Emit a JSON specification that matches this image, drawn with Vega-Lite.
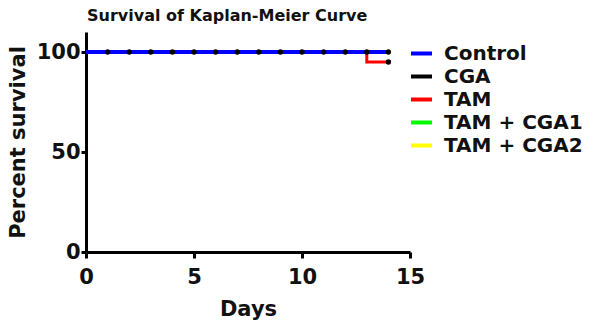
{
  "$schema": "https://vega.github.io/schema/vega-lite/v6.json",
  "width": 324,
  "height": 220,
  "autosize": "none",
  "padding": {"left": 86, "top": 32, "right": 197, "bottom": 69},
  "background": "white",
  "config": {
    "view": {"stroke": null},
    "font": "DejaVu Sans"
  },
  "title": {
    "text": "Survival of Kaplan-Meier Curve",
    "anchor": "start",
    "frame": "group",
    "fontSize": 16,
    "fontWeight": "bold",
    "font": "DejaVu Sans",
    "color": "#111",
    "offset": 8,
    "dx": 1
  },
  "datasets": {
    "curves": [
      {"group": "TAM", "day": 0, "pct": 100},
      {"group": "TAM", "day": 13, "pct": 95},
      {"group": "TAM", "day": 14, "pct": 95},
      {"group": "TAM + CGA2", "day": 0, "pct": 100},
      {"group": "TAM + CGA2", "day": 14, "pct": 100},
      {"group": "TAM + CGA1", "day": 0, "pct": 100},
      {"group": "TAM + CGA1", "day": 14, "pct": 100},
      {"group": "CGA", "day": 0, "pct": 100},
      {"group": "CGA", "day": 14, "pct": 100},
      {"group": "Control", "day": 0, "pct": 100},
      {"group": "Control", "day": 14, "pct": 100}
    ],
    "censor": [
      {"day": 1, "pct": 100}, {"day": 2, "pct": 100}, {"day": 3, "pct": 100},
      {"day": 4, "pct": 100}, {"day": 5, "pct": 100}, {"day": 6, "pct": 100},
      {"day": 7, "pct": 100}, {"day": 8, "pct": 100}, {"day": 9, "pct": 100},
      {"day": 10, "pct": 100}, {"day": 11, "pct": 100}, {"day": 12, "pct": 100},
      {"day": 13, "pct": 100}, {"day": 14, "pct": 100}, {"day": 14, "pct": 95}
    ]
  },
  "layer": [
    {
      "data": {"name": "curves"},
      "transform": [{"filter": "datum.group !== 'Control'"}],
      "mark": {"type": "line", "interpolate": "step-after", "strokeWidth": 3},
      "encoding": {
        "x": {
          "field": "day", "type": "quantitative",
          "scale": {"domain": [0, 15], "nice": false},
          "axis": {
            "values": [0, 5, 10, 15],
            "title": "Days",
            "titleFontSize": 21, "titleFontWeight": "bold", "titleColor": "#111",
            "titleFont": "DejaVu Sans",
            "titlePadding": 11,
            "labelFontSize": 21, "labelColor": "#111", "labelFontWeight": "bold",
            "labelFont": "DejaVu Sans",
            "labelPadding": 8,
            "domainColor": "#000", "domainWidth": 3,
            "tickColor": "#000", "tickWidth": 3, "tickSize": 6,
            "grid": false, "labelFlush": false
          }
        },
        "y": {
          "field": "pct", "type": "quantitative",
          "scale": {"domain": [0, 110], "nice": false},
          "axis": {
            "values": [0, 50, 100],
            "title": "Percent survival",
            "titleFontSize": 21, "titleFontWeight": "bold", "titleColor": "#111",
            "titleFont": "DejaVu Sans",
            "titlePadding": 8,
            "labelFontSize": 21, "labelColor": "#111", "labelFontWeight": "bold",
            "labelFont": "DejaVu Sans",
            "labelPadding": 1,
            "domainColor": "#000", "domainWidth": 3,
            "tickColor": "#000", "tickWidth": 3, "tickSize": 5,
            "grid": false
          }
        },
        "color": {
          "field": "group", "type": "nominal",
          "scale": {
            "domain": ["Control", "CGA", "TAM", "TAM + CGA1", "TAM + CGA2"],
            "range": ["#0000ff", "#000000", "#ff0000", "#00ff00", "#ffff00"]
          },
          "legend": {
            "orient": "none", "legendX": 323, "legendY": 9,
            "title": null,
            "symbolType": "stroke", "symbolStrokeWidth": 4, "symbolSize": 441,
            "labelFontSize": 20, "labelFontWeight": "bold", "labelColor": "#111",
            "labelFont": "DejaVu Sans",
            "labelLimit": 300,
            "labelOffset": 10,
            "rowPadding": 0,
            "symbolOffset": 0
          }
        },
        "order": {"field": "day", "type": "quantitative"}
      }
    },
    {
      "data": {"name": "curves"},
      "transform": [{"filter": "datum.group === 'Control'"}],
      "mark": {"type": "line", "interpolate": "step-after", "strokeWidth": 4},
      "encoding": {
        "x": {"field": "day", "type": "quantitative"},
        "y": {"field": "pct", "type": "quantitative"},
        "color": {"field": "group", "type": "nominal"}
      }
    },
    {
      "data": {"name": "censor"},
      "mark": {"type": "circle", "size": 28, "color": "#000", "opacity": 1},
      "encoding": {
        "x": {"field": "day", "type": "quantitative"},
        "y": {"field": "pct", "type": "quantitative"}
      }
    }
  ]
}
